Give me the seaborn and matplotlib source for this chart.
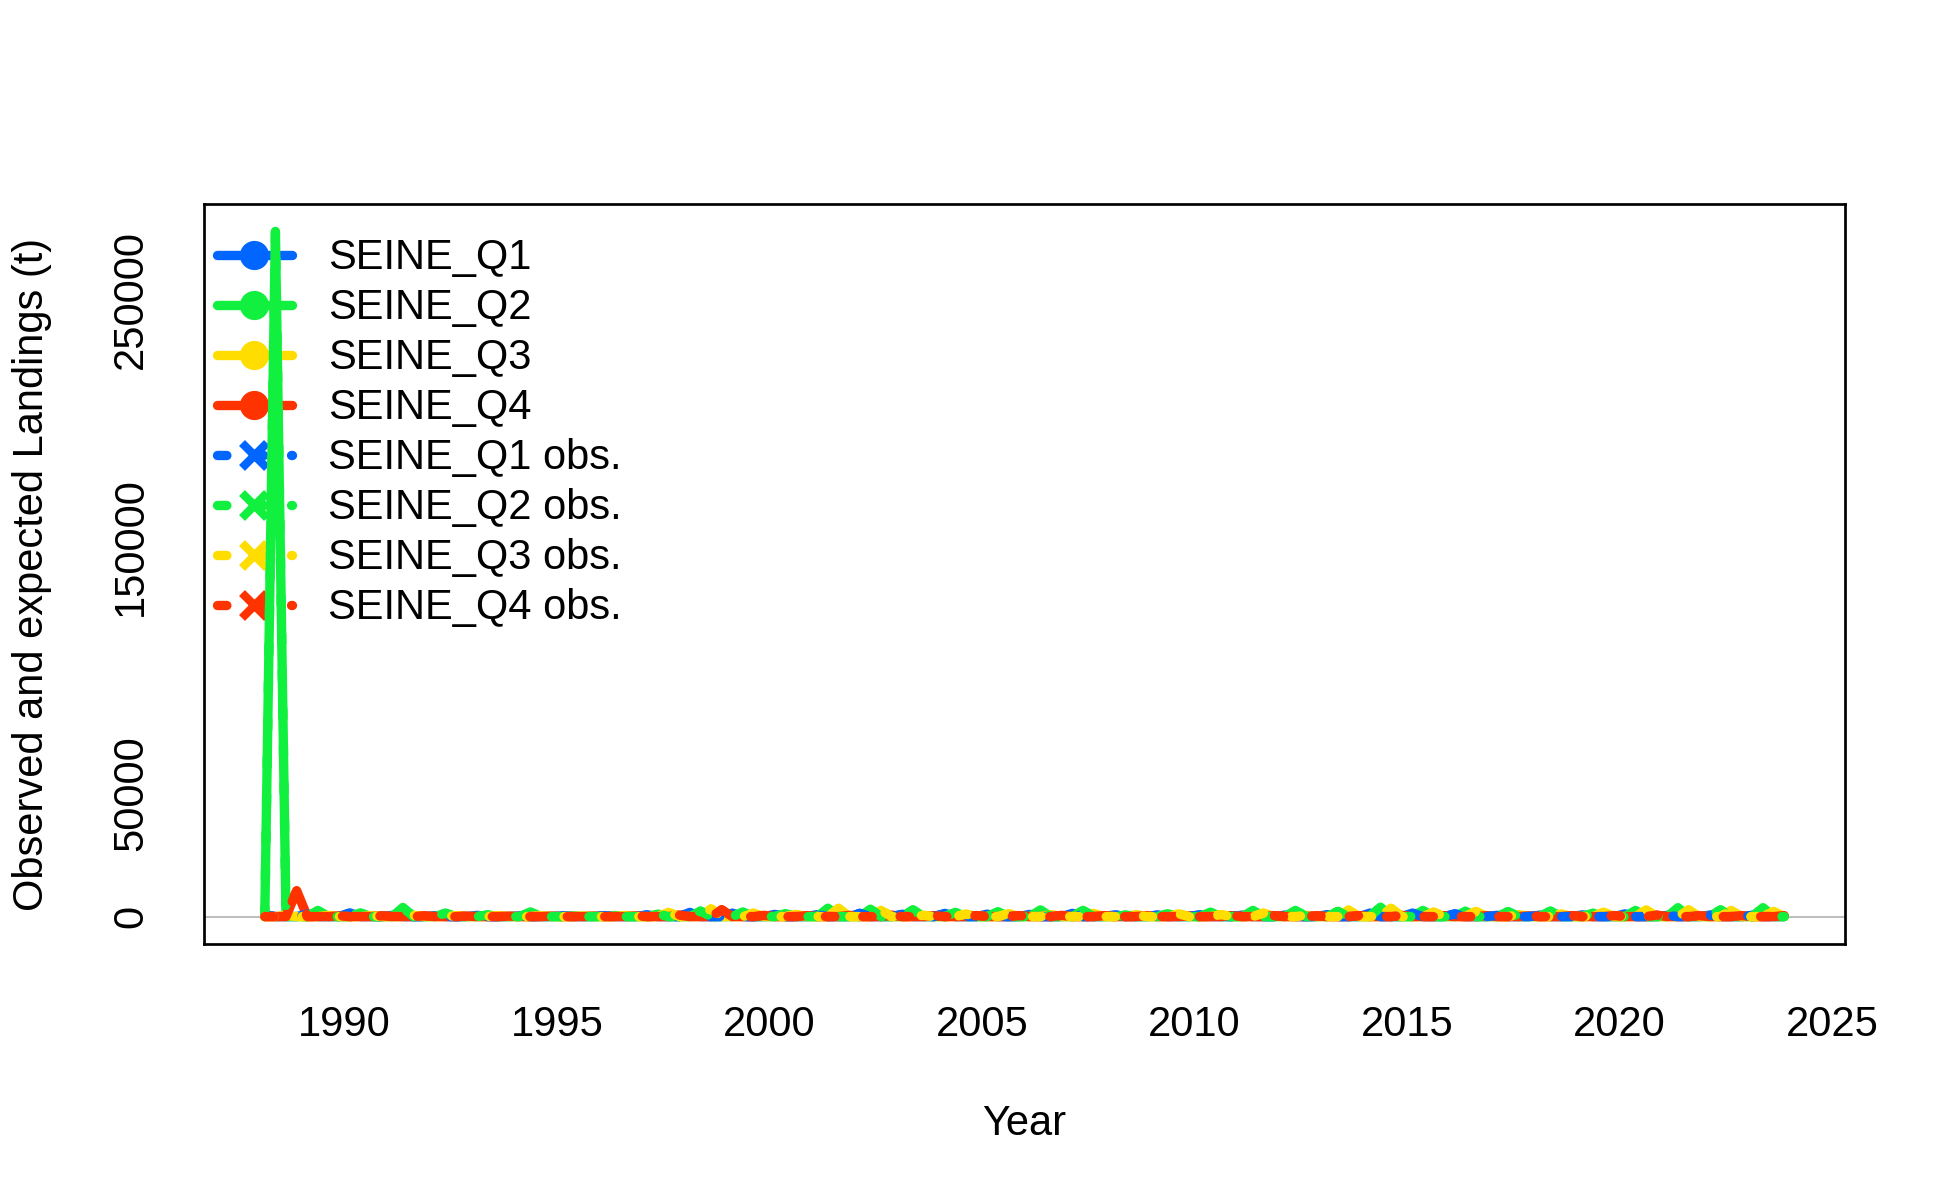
import matplotlib
matplotlib.use("Agg")
import matplotlib.pyplot as plt
from matplotlib.lines import Line2D
import numpy as np
import pandas as pd
import seaborn as sns

# ---------------- data ----------------
years = list(range(1988, 2024))
quarter_offsets = [0.125, 0.375, 0.625, 0.875]
series_names = ["SEINE_Q1", "SEINE_Q2", "SEINE_Q3", "SEINE_Q4"]
series_colors = ["#0066FF", "#12F03F", "#FFDD00", "#FF3300"]

# expected landings (t) in the fleet's own quarter, 1988..2023
q1_exp = [800, 1000, 1500, 500, 400, 500, 300, 300, 400, 700, 1700, 1400,
          900, 800, 1300, 900, 1300, 1000, 900, 1300, 700, 600, 700, 600,
          600, 800, 1400, 1400, 1100, 500, 600, 700, 1100, 500, 600, 500]
q2_exp = [277500, 2500, 1500, 3700, 1300, 700, 1900, 300, 400, 1000, 2200, 1800,
          1200, 3400, 3000, 2700, 1700, 2000, 2700, 2500, 600, 1100, 1800, 2500,
          2500, 2100, 3800, 2500, 2200, 2000, 2200, 1400, 2500, 3600, 2700, 3600]
q3_exp = [500, 500, 400, 500, 400, 400, 400, 300, 500, 1700, 3100, 1400,
          900, 3400, 2500, 500, 1000, 1200, 800, 1300, 800, 1100, 800, 1400,
          500, 2700, 3400, 1800, 2100, 800, 1100, 1800, 2700, 2700, 2500, 2100]
q4_exp = [10500, 300, 300, 300, 200, 200, 200, 200, 300, 600, 2800, 500,
          400, 500, 600, 400, 400, 400, 500, 400, 400, 300, 400, 400,
          300, 400, 500, 400, 400, 300, 400, 400, 600, 400, 400, 400]

# observed landings (t)
q1_obs = [700, 1000, 1400, 500, 400, 500, 300, 300, 400, 700, 1800, 1400,
          1000, 800, 1300, 900, 1300, 1000, 900, 1300, 700, 600, 700, 600,
          600, 800, 1400, 1400, 1100, 500, 600, 700, 1100, 500, 600, 500]
q2_obs = [277500, 2500, 1400, 3600, 1400, 700, 1800, 300, 400, 1000, 2200, 1800,
          1200, 3400, 3000, 2700, 1700, 2000, 2700, 2500, 600, 1100, 1800, 2500,
          2500, 2100, 3800, 2500, 2200, 2000, 2200, 1400, 2500, 3600, 2700, 3600]
q3_obs = [500, 500, 400, 500, 400, 400, 400, 300, 500, 1800, 3100, 1300,
          900, 3400, 2500, 500, 1000, 1200, 800, 1300, 800, 1100, 800, 1400,
          500, 2700, 3400, 1800, 2100, 800, 1100, 1800, 2700, 2700, 2500, 2100]
q4_obs = [10500, 300, 300, 300, 200, 200, 200, 200, 300, 600, 2700, 500,
          400, 500, 600, 400, 400, 400, 500, 400, 400, 300, 400, 400,
          300, 400, 500, 400, 400, 300, 400, 400, 600, 400, 400, 400]

x_ticks = [1990, 1995, 2000, 2005, 2010, 2015, 2020, 2025]
y_ticks = [0, 50000, 100000, 150000, 200000, 250000]
y_tick_labels = ["0", "50000", "", "150000", "", "250000"]

expected = [q1_exp, q2_exp, q3_exp, q4_exp]
observed = [q1_obs, q2_obs, q3_obs, q4_obs]


def quarterly_frame(values, k):
    rows = []
    for i, y in enumerate(years):
        for j, off in enumerate(quarter_offsets):
            rows.append({"time": y + off, "value": values[i] if j == k else 0.0})
    return pd.DataFrame(rows)


# ---------------- style ----------------
sns.set_style("white")
plt.rcParams["font.family"] = ["Liberation Sans", "DejaVu Sans"]
plt.rcParams["font.size"] = 20
plt.rcParams["text.color"] = "black"
plt.rcParams["axes.labelcolor"] = "black"
plt.rcParams["xtick.color"] = "black"
plt.rcParams["ytick.color"] = "black"

DPI = 150
fig = plt.figure(figsize=(1950 / DPI, 1200 / DPI), dpi=DPI)
ax = fig.add_axes([204 / 1950, (1200 - 944) / 1200, 1641 / 1950, 740 / 1200])

LW = 4.5
ax.axhline(0, color="#BEBEBE", lw=1.0, zorder=0)

for k in range(4):
    df = quarterly_frame(expected[k], k)
    sns.lineplot(data=df, x="time", y="value", ax=ax, color=series_colors[k],
                 lw=LW, estimator=None, sort=False,
                 solid_capstyle="round", solid_joinstyle="round")
for k in range(4):
    df = quarterly_frame(observed[k], k)
    sns.lineplot(data=df, x="time", y="value", ax=ax, color=series_colors[k],
                 lw=LW, estimator=None, sort=False, linestyle=(0, (1, 3)),
                 dash_capstyle="round", dash_joinstyle="round")

ax.margins(x=0.04, y=0.04)
ax.set_xticks(x_ticks)
ax.set_xticklabels([str(t) for t in x_ticks])
ax.set_yticks(y_ticks)
ax.set_yticklabels(y_tick_labels, rotation=90, va="center")

for sp in ax.spines.values():
    sp.set_visible(True)
    sp.set_color("black")
    sp.set_linewidth(1.3)
ax.tick_params(axis="both", direction="out", length=12.5, width=1.3,
               color="black", labelsize=20, labelcolor="black")
ax.tick_params(axis="x", pad=17)
ax.tick_params(axis="y", pad=13)
ax.grid(False)

ax.set_xlabel("Year", fontsize=20, va="baseline", color="black")
ax.xaxis.set_label_coords(0.5, (944 - 1135) / 740)
ax.set_ylabel("Observed and expected Landings (t)", fontsize=20, va="center",
              color="black")
ax.yaxis.set_label_coords((32.5 - 204) / 1641, 0.5)

# legend
handles = []
labels = []
for k in range(4):
    handles.append(Line2D([0], [0], color=series_colors[k], lw=LW, marker="o",
                          markersize=13, solid_capstyle="round"))
    labels.append(series_names[k])
for k in range(4):
    handles.append(Line2D([0], [0], color=series_colors[k], lw=LW, marker="x",
                          markersize=12, markeredgewidth=4,
                          linestyle=(0, (1, 2.95)), dash_capstyle="round"))
    labels.append(series_names[k] + " obs.")
leg = ax.legend(handles, labels, loc="upper left",
                bbox_to_anchor=((216.7 - 204) / 1641, 0.9535),
                frameon=False, fontsize=20, handlelength=1.8,
                handletextpad=0.88, labelspacing=0.24, borderpad=0,
                borderaxespad=0, numpoints=1)
leg.set_zorder(1)
for t in leg.get_texts():
    t.set_color("black")

fig.savefig("out.png", dpi=DPI)
